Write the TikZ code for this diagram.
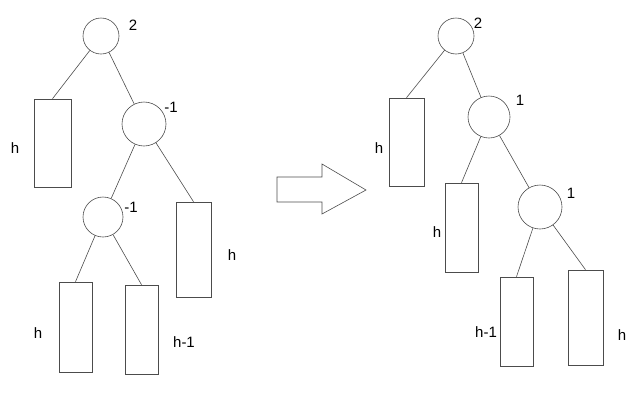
\documentclass[tikz,border=0pt]{standalone}
\usepackage{fontspec}
\setmainfont{Liberation Sans}
\usetikzlibrary{positioning}

\begin{document}
\begin{tikzpicture}[x=1pt, y=-1pt,
    every node/.style={font=\fontsize{15}{17}\selectfont},
    bal/.style={circle, draw=black!70, line width=0.6pt, inner sep=0pt},
    subtree/.style={rectangle, draw=black!70, line width=0.6pt, inner sep=0pt},
    link/.style={draw=black!70, line width=0.6pt},
]
\useasboundingbox (0,0) rectangle (640,405);

% Left tree: balance nodes
\node[bal, minimum size=36pt] (lroot) at (101,36) {};
\node[bal, minimum size=44pt] (lmid) at (144,124) {};
\node[bal, minimum size=40pt] (llow) at (103,217) {};

% Left tree: subtrees
\node[subtree, minimum width=37pt, minimum height=88pt] (lta) at (52.5,143) {};
\node[subtree, minimum width=35pt, minimum height=95pt] (ltb) at (193.5,249.5) {};
\node[subtree, minimum width=33pt, minimum height=90pt] (ltc) at (75.5,327) {};
\node[subtree, minimum width=33pt, minimum height=89pt] (ltd) at (141.5,329.5) {};

% Left tree: labels
\node (lbroot) at (133,25) {2};
\node (lbmid) at (171,107) {-1};
\node (lblow) at (131,207) {-1};
\node (lhta) at (15,148) {h};
\node (lhtb) at (232,255) {h};
\node (lhtc) at (38,333) {h};
\node (lhtd) at (184,342) {h-1};

% Left tree: edges
\draw[link] (lroot) -- (lta.north);
\draw[link] (lroot) -- (lmid);
\draw[link] (lmid) -- (llow);
\draw[link] (lmid) -- (ltb.north);
\draw[link] (llow) -- (ltc.north);
\draw[link] (llow) -- (ltd.north);

% Rotation arrow
\draw[link] (277,177) -- (322,177) -- (322,164) -- (366,190)
    -- (322,214) -- (322,202) -- (277,202) -- cycle;

% Right tree: balance nodes
\node[bal, minimum size=36pt] (rroot) at (456,36) {};
\node[bal, minimum size=42pt] (rmid) at (489,117) {};
\node[bal, minimum size=44pt] (rlow) at (540,207) {};

% Right tree: subtrees
\node[subtree, minimum width=35pt, minimum height=88pt] (rta) at (406.5,142) {};
\node[subtree, minimum width=33pt, minimum height=89pt] (rtb) at (461.5,227.5) {};
\node[subtree, minimum width=33pt, minimum height=89pt] (rtc) at (516.5,321.5) {};
\node[subtree, minimum width=35pt, minimum height=95pt] (rtd) at (585.5,317.5) {};

% Right tree: labels
\node (rbroot) at (478,23) {2};
\node (rbmid) at (520,100) {1};
\node (rblow) at (571,193) {1};
\node (rhta) at (379,148) {h};
\node (rhtb) at (437,232) {h};
\node (rhtc) at (486,332) {h-1};
\node (rhtd) at (622,335) {h};

% Right tree: edges
\draw[link] (rroot) -- (rta.north);
\draw[link] (rroot) -- (rmid);
\draw[link] (rmid) -- (rtb.north);
\draw[link] (rmid) -- (rlow);
\draw[link] (rlow) -- (rtc.north);
\draw[link] (rlow) -- (rtd.north);

\end{tikzpicture}
\end{document}
